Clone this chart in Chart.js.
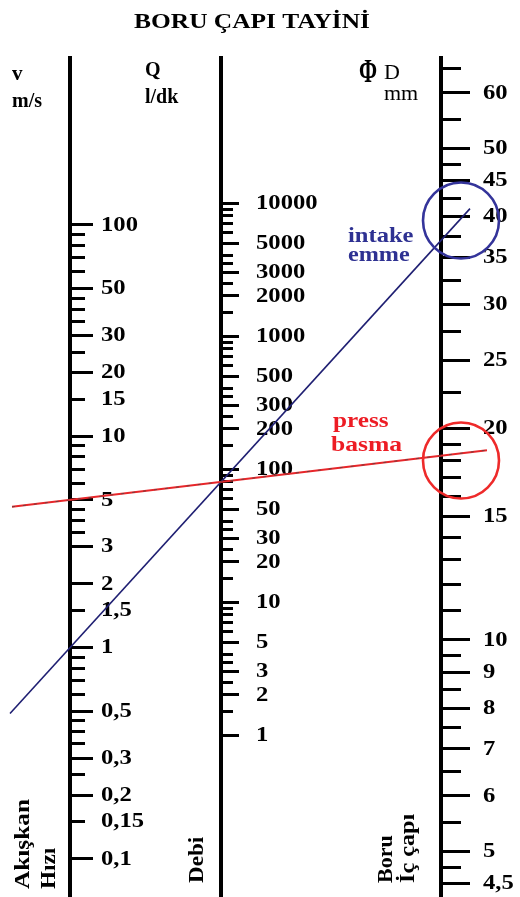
<!DOCTYPE html>
<html>
<head>
<meta charset="utf-8">
<title>Boru Çapı Tayini</title>
<script src="https://cdn.jsdelivr.net/npm/chart.js@4.4.0/dist/chart.umd.min.js"></script>
<style>
  html, body { margin: 0; padding: 0; background: #fff; }
  #wrap { width: 520px; height: 897px; position: relative; }
</style>
</head>
<body>
<div id="wrap"><canvas id="nomo"></canvas></div>
<script>
// akışkan hızı v (m/s)
const vLong = [100, 50, 30, 20, 10, 5, 3, 2, 1, 0.5, 0.3, 0.2, 0.1];
const vShort = [90, 80, 70, 60, 45, 40, 35, 25, 15, 9, 8, 7, 6, 4.5, 4, 3.5, 1.5, 0.9, 0.8, 0.7, 0.6, 0.45, 0.4, 0.35, 0.25, 0.15];
const vLabelVals = [100, 50, 30, 20, 15, 10, 5, 3, 2, 1.5, 1, 0.5, 0.3, 0.2, 0.15, 0.1];
const vLabelTxt = ['100', '50', '30', '20', '15', '10', '5', '3', '2', '1,5', '1', '0,5', '0,3', '0,2', '0,15', '0,1'];

// debi Q (l/dk)
const qLong = [10000, 5000, 3000, 2000, 1000, 500, 300, 200, 100, 50, 30, 20, 10, 5, 3, 2, 1];
const qShort = [9000, 8000, 7000, 6000, 4000, 3500, 2500, 1500,
                900, 800, 700, 600, 400, 350, 250, 150,
                90, 80, 70, 60, 40, 35, 25, 15,
                9, 8, 7, 6, 4, 3.5, 2.5, 1.5];
const qLabelVals = qLong;
const qLabelTxt = ['10000', '5000', '3000', '2000', '1000', '500', '300', '200', '100', '50', '30', '20', '10', '5', '3', '2', '1'];

// boru iç çapı D (mm)
const dLong = [60, 50, 45, 40, 35, 30, 25, 20, 15, 10, 9, 8, 7, 6, 5, 4.5];
const dShort = [65, 55, 47.5, 42.5, 37.5, 32.5, 27.5, 22.5, 19, 18, 17, 16, 14, 13, 12, 11, 9.5, 8.5, 7.5, 6.5, 5.5, 4.75];
const dLabelVals = dLong;
const dLabelTxt = ['60', '50', '45', '40', '35', '30', '25', '20', '15', '10', '9', '8', '7', '6', '5', '4,5'];

// okuma çizgileri: emme ve basma
const lineNames = ['intake', 'press'];
const lineSpeed = [1, 5];        // m/s
const lineFlow = [80, 80];       // l/dk
const lineCircleD = [39.5, 18];  // mm, okunan çap
const lineColors = ['#1f1f72', '#e8262a'];

const axisX = { v: 70, q: 221, d: 441 };
const SERIF = '"Liberation Serif", "Times New Roman", "DejaVu Serif", serif';

function pick(vals, txt) {
  return v => {
    const i = vals.indexOf(v);
    return i < 0 ? '' : txt[i];
  };
}

function logAxis(x, min, max, ticks, len, border, labelFn) {
  return {
    type: 'logarithmic',
    axis: 'y',
    position: { x: x },
    min: min,
    max: max,
    afterBuildTicks: s => { s.ticks = ticks.map(v => ({ value: v })); },
    ticks: { display: false, callback: labelFn },
    grid: { drawOnChartArea: false, drawTicks: true, tickLength: -len, tickWidth: 3, tickColor: '#000' },
    border: { display: border, color: '#000', width: 4 }
  };
}

function txt(ctx, s, x, y, o) {
  ctx.save();
  ctx.font = o.font;
  ctx.fillStyle = o.color || '#000';
  ctx.textAlign = o.align || 'left';
  ctx.textBaseline = o.base || 'alphabetic';
  ctx.translate(x, y);
  if (o.rot) ctx.rotate(o.rot);
  ctx.scale(o.sx || 1.15, 1);
  ctx.fillText(s, 0, 0);
  ctx.restore();
}

const nomogram = {
  id: 'nomogram',
  afterDraw(chart) {
    const ctx = chart.ctx;
    const xs = chart.scales.x;
    const bold = px => 'bold ' + px + 'px ' + SERIF;

    // tick labels, left aligned next to the ticks
    const groups = [
      [['yV', 'yVMinor'], axisX.v + 31],
      [['yQ', 'yQMinor'], axisX.q + 35],
      [['yD', 'yDMinor'], axisX.d + 42]
    ];
    groups.forEach(([ids, off]) => {
      ids.forEach(id => {
        const sc = chart.scales[id];
        sc.ticks.forEach(t => {
          if (!t.label) return;
          txt(ctx, t.label, xs.getPixelForValue(off), sc.getPixelForValue(t.value),
              { font: bold(22), base: 'middle', sx: 1.12 });
        });
      });
    });

    // titles
    txt(ctx, 'BORU ÇAPI TAYİNİ', 252, 28, { font: bold(20.5), align: 'center', sx: 1.24 });
    txt(ctx, 'v', 12, 80, { font: bold(20), sx: 1.05 });
    txt(ctx, 'm/s', 12, 107, { font: bold(20), sx: 1.0 });
    txt(ctx, 'Q', 145, 76, { font: bold(20), sx: 1.0 });
    txt(ctx, 'l/dk', 145, 103, { font: bold(20), sx: 1.0 });
    txt(ctx, 'Φ', 359, 82, { font: bold(33), sx: 0.66 });
    txt(ctx, 'D', 384, 79, { font: '22px ' + SERIF, sx: 1.0 });
    txt(ctx, 'mm', 384, 100, { font: '22px ' + SERIF, sx: 1.0 });

    // axis names along the bottom
    const up = -Math.PI / 2;
    txt(ctx, 'Akışkan', 29, 889, { font: bold(22), rot: up, sx: 1.15 });
    txt(ctx, 'Hızı', 55, 889, { font: bold(22), rot: up, sx: 1.05 });
    txt(ctx, 'Debi', 203, 883, { font: bold(22), rot: up, sx: 1.05 });
    txt(ctx, 'Boru', 392, 883, { font: bold(22), rot: up, sx: 1.0 });
    txt(ctx, 'İç çapı', 414, 883, { font: bold(22), rot: up, sx: 1.1 });

    // reading lines through v and Q, extended past the outer axes
    const reach = [[60, 29], [58, 46]];
    lineNames.forEach((name, i) => {
      const x1 = xs.getPixelForValue(axisX.v);
      const y1 = chart.scales.yV.getPixelForValue(lineSpeed[i]);
      const x2 = xs.getPixelForValue(axisX.q);
      const y2 = chart.scales.yQ.getPixelForValue(lineFlow[i]);
      const k = (y2 - y1) / (x2 - x1);
      const xa = x1 - reach[i][0];
      const xb = xs.getPixelForValue(axisX.d) + reach[i][1];
      ctx.save();
      ctx.beginPath();
      ctx.moveTo(xa, y1 + k * (xa - x1));
      ctx.lineTo(xb, y1 + k * (xb - x1));
      ctx.strokeStyle = lineColors[i];
      ctx.lineWidth = i === 0 ? 1.6 : 2;
      ctx.stroke();
      if (i === 1) {
        ctx.setLineDash([3, 8]);
        ctx.strokeStyle = 'rgba(70,70,70,0.7)';
        ctx.lineWidth = 1;
        ctx.stroke();
      }
      ctx.restore();

      ctx.save();
      ctx.beginPath();
      ctx.arc(xs.getPixelForValue(axisX.d + 20), chart.scales.yD.getPixelForValue(lineCircleD[i]), 38, 0, Math.PI * 2);
      ctx.strokeStyle = i === 0 ? '#34349a' : '#ee2a2a';
      ctx.lineWidth = 2.6;
      ctx.stroke();
      ctx.restore();
    });

    txt(ctx, 'intake', 348, 242, { font: bold(21), color: '#2e3192', sx: 1.17 });
    txt(ctx, 'emme', 348, 261, { font: bold(21), color: '#2e3192', sx: 1.15 });
    txt(ctx, 'press', 333, 427, { font: bold(21), color: '#ed1c24', sx: 1.2 });
    txt(ctx, 'basma', 331, 451, { font: bold(21), color: '#ed1c24', sx: 1.22 });
  }
};

new Chart(document.getElementById('nomo'), {
  type: 'scatter',
  data: { datasets: [] },
  options: {
    responsive: true,
    maintainAspectRatio: false,
    animation: false,
    layout: { padding: { top: 58, left: 0, right: 0, bottom: 0 } },
    plugins: { legend: { display: false }, tooltip: { enabled: false } },
    scales: {
      x: { type: 'linear', axis: 'x', min: 0, max: 520, display: false },
      yV: logAxis(axisX.v, 0.06603, 617, vLong, 25, true, pick(vLabelVals, vLabelTxt)),
      yVMinor: logAxis(axisX.v, 0.06603, 617, vShort, 15, false, pick(vLabelVals, vLabelTxt)),
      yQ: logAxis(axisX.q, 0.06053, 123100, qLong, 20, true, pick(qLabelVals, qLabelTxt)),
      yQMinor: logAxis(axisX.q, 0.06053, 123100, qShort, 12, false, pick(qLabelVals, qLabelTxt)),
      yD: logAxis(axisX.d, 4.3095, 67.27, dLong, 31, true, pick(dLabelVals, dLabelTxt)),
      yDMinor: logAxis(axisX.d, 4.3095, 67.27, dShort, 20, false, pick(dLabelVals, dLabelTxt))
    }
  },
  plugins: [nomogram]
});
</script>
</body>
</html>
